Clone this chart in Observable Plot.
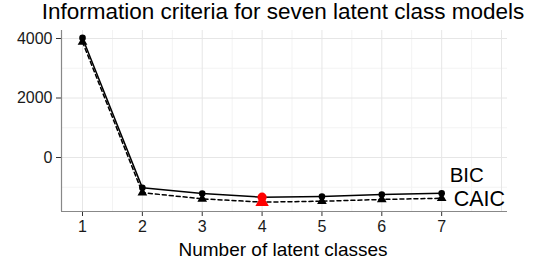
<!DOCTYPE html>
<html><head><meta charset="utf-8">
<script src="https://cdn.jsdelivr.net/npm/d3@7"></script>
<script src="https://cdn.jsdelivr.net/npm/@observablehq/plot@0.6"></script>
<style>
body{margin:0;background:#fff;font-family:"Liberation Sans",Arial,sans-serif;}
#wrap{position:relative;width:533px;height:263px;}
#title{position:absolute;left:0;width:533px;top:-1px;text-align:center;padding-left:33px;box-sizing:border-box;font-size:22.5px;line-height:1.15;color:#000;white-space:nowrap;}
#xlab{position:absolute;left:0;width:533px;top:240px;text-align:center;padding-left:33px;box-sizing:border-box;font-size:19px;line-height:1;color:#000;white-space:nowrap;}
</style></head>
<body><div id="wrap"><div id="title">Information criteria for seven latent class models</div><div id="xlab">Number of latent classes</div></div>
<script>
const classes = [1, 2, 3, 4, 5, 6, 7];
const bic  = [4020, -1020, -1210, -1335, -1310, -1245, -1200];
const caic = [3880, -1180, -1390, -1500, -1470, -1410, -1370];
const best = 4;
const seriesNames = ["BIC", "CAIC"];
const xTicks = [1, 2, 3, 4, 5, 6, 7];
const yTicks = [0, 2000, 4000];

const rows = [];
classes.forEach((k, i) => {
  rows.push({k, v: bic[i], s: "BIC"});
  rows.push({k, v: caic[i], s: "CAIC"});
});
const bicRows = rows.filter(d => d.s === "BIC");
const caicRows = rows.filter(d => d.s === "CAIC");
const bestRows = rows.filter(d => d.k === best);
const lastBic = bicRows[bicRows.length - 1];
const lastCaic = caicRows[caicRows.length - 1];

const xDom = [0.649, 8.1];
const yDom = [-1815, 4269];
const xMajor = d3.range(1, 8.01, 1);
const xMinor = d3.range(1.5, 8.01, 1);
const yMajor = [0, 2000, 4000];
const yMinor = [-1000, 1000, 3000];

const chart = Plot.plot({
  width: 533, height: 263,
  marginLeft: 61, marginRight: 26, marginTop: 30, marginBottom: 52,
  style: {fontFamily: '"Liberation Sans", Arial, sans-serif', fontSize: "16px", background: "transparent", overflow: "visible"},
  x: {domain: xDom, label: null},
  y: {domain: yDom, label: null},
  marks: [
    Plot.ruleX(xMinor, {stroke: "#f3f3f3", strokeWidth: 1}),
    Plot.ruleY(yMinor, {stroke: "#f3f3f3", strokeWidth: 1}),
    Plot.ruleX(xMajor, {stroke: "#e6e6e6", strokeWidth: 1}),
    Plot.ruleY(yMajor, {stroke: "#e6e6e6", strokeWidth: 1}),
    Plot.axisX({ticks: xTicks, tickFormat: d => String(d), tickSize: 5, tickPadding: 4, stroke: "#333", color: "#1a1a1a", fontSize: 16, label: null}),
    Plot.axisY({ticks: yTicks, tickFormat: d => String(d), tickSize: 5, tickPadding: 4, stroke: "#333", color: "#1a1a1a", fontSize: 16, label: null}),
    Plot.ruleX([xDom[0]], {stroke: "#888", strokeWidth: 1.2}),
    Plot.ruleY([yDom[0]], {stroke: "#888", strokeWidth: 1.2}),
    Plot.line(bicRows, {x: "k", y: "v", stroke: "#000", strokeWidth: 1.5}),
    Plot.line(caicRows, {x: "k", y: "v", stroke: "#000", strokeWidth: 1.5, strokeDasharray: "4,3"}),
    Plot.dot(caicRows.filter(d => d.k !== best), {x: "k", y: "v", symbol: "triangle", r: 3.6, fill: "#000", stroke: "none"}),
    Plot.dot(bicRows.filter(d => d.k !== best), {x: "k", y: "v", symbol: "circle", r: 3.3, fill: "#000", stroke: "none"}),
    Plot.dot(bestRows.filter(d => d.s === "CAIC"), {x: "k", y: "v", symbol: "triangle", r: 5, fill: "#ff0000", stroke: "none"}),
    Plot.dot(bestRows.filter(d => d.s === "BIC"), {x: "k", y: "v", symbol: "circle", r: 4.6, fill: "#ff0000", stroke: "none"}),
    Plot.text([lastBic], {x: "k", y: "v", text: d => seriesNames[0], textAnchor: "start", dx: 8, dy: -18, fontSize: 20.5, fill: "#000"}),
    Plot.text([lastCaic], {x: "k", y: "v", text: d => seriesNames[1], textAnchor: "start", dx: 12, dy: 1, fontSize: 21.5, fill: "#000"})
  ]
});
document.getElementById("wrap").appendChild(chart);
chart.style.position = "absolute";
chart.style.left = "0";
chart.style.top = "0";
</script>
</body></html>
